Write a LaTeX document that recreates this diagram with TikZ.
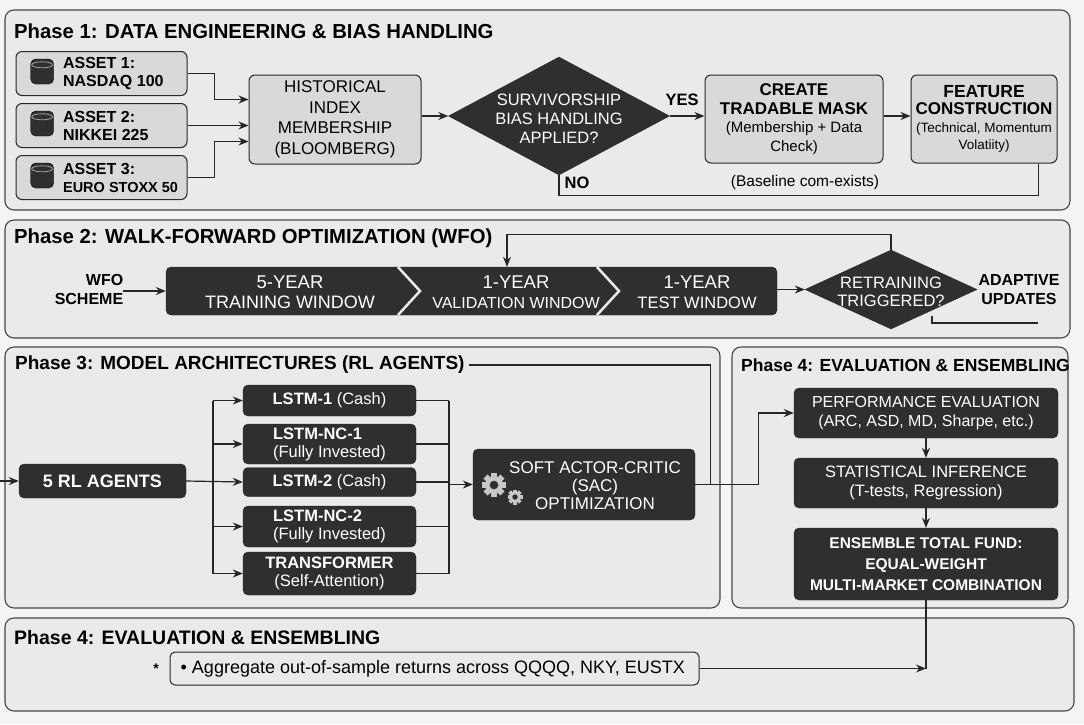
\documentclass[tikz,border=0pt]{standalone}
\usepackage{fontspec}
\setmainfont{Liberation Sans}
\usetikzlibrary{positioning,shapes.geometric,arrows.meta,calc}

\definecolor{pagebg}{HTML}{F4F4F3}
\definecolor{panelbg}{HTML}{EAEAEA}
\definecolor{boxlight}{HTML}{D9D9D9}
\definecolor{boxdark}{HTML}{2F2F2F}
\definecolor{ink}{HTML}{262626}
\definecolor{gearcol}{HTML}{C8C8C8}

\newcommand{\fsz}[2]{\fontsize{#1}{#2}\selectfont}
% gear glyph: x, y, radius
\newcommand{\gearicon}[3]{%
  \foreach \a in {0,45,90,135}
    \fill[gearcol,rotate around={\a:(#1,#2)}] (#1-0.24*#3,#2-#3) rectangle (#1+0.24*#3,#2+#3);
  \fill[gearcol] (#1,#2) circle (0.74*#3);
  \fill[boxdark] (#1,#2) circle (0.36*#3);}

\begin{document}
\begin{tikzpicture}[x=1pt,y=-1pt,
    panel/.style={draw=ink!85,fill=panelbg,line width=1.1pt,rounded corners=9pt},
    ttl/.style={anchor=west,inner sep=0pt,font=\bfseries\fsz{20.3}{22}},
    lightbox/.style={draw=ink,fill=boxlight,line width=1pt,rounded corners=6pt,align=center,inner sep=0pt},
    darkbox/.style={fill=boxdark,draw=ink,text=white,rounded corners=5pt,align=center,inner sep=0pt},
    decision/.style={diamond,fill=boxdark,draw=ink,inner sep=0pt},
    asset/.style={lightbox,minimum width=171pt,minimum height=44pt},
    assettxt/.style={align=left,inner sep=0pt,font=\bfseries\fsz{16}{18}},
    lstm/.style={darkbox,minimum width=173pt,font=\fsz{16.5}{18}},
    wtxt/.style={text=white,align=center,inner sep=0pt},
    lbl/.style={inner sep=0pt,align=center},
    line/.style={draw=ink,line width=1.2pt},
    arr/.style={line,-{Stealth[length=10pt,width=8pt]}},
    dbicon/.style={fill=boxdark,draw=black,rounded corners=5pt,minimum width=23pt,minimum height=25pt,inner sep=0pt}]

    \fill[pagebg] (0,0) rectangle (1084,724);
    \useasboundingbox (0,0) rectangle (1084,724);

    % panels
    \draw[panel] (5,10) rectangle (1070,210);
    \draw[panel] (5,220) rectangle (1070,338);
    \draw[panel] (5,347) rectangle (720,608);
    \draw[panel] (732,347) rectangle (1068,608);
    \draw[panel] (5,618) rectangle (1074,711);

    % Phase 1
    \node[ttl] (t1) at (14,31) {Phase 1: DATA ENGINEERING \& BIAS HANDLING};
    \node[asset] (a1) at (101.5,73.5) {};
    \node[asset] (a2) at (101.5,125.5) {};
    \node[asset] (a3) at (101.5,177.5) {};
    \foreach \n in {1,2,3}{
        \node[dbicon,right=15pt of a\n.west,yshift=2pt] (db\n) {};
        \draw[boxdark!45!white,line width=0.8pt] ([yshift=-6pt]db\n.north) ellipse (10.5 and 3);
    }
    \node[assettxt,right=9pt of a1.west -| db1.east] {ASSET 1:\\NASDAQ 100};
    \node[assettxt,right=9pt of a2.west -| db2.east] {ASSET 2:\\NIKKEI 225};
    \node[assettxt,right=9pt of a3.west -| db3.east] {ASSET 3:\\{\fsz{14.5}{18}EURO STOXX 50}};

    \node[lightbox,minimum width=172pt,minimum height=89pt,font=\fsz{17}{20.5}] (hist) at (335,119.5)
        {HISTORICAL\\INDEX\\MEMBERSHIP\\(BLOOMBERG)};
    \draw[arr] (a1.east) -- ++(27,0) |- ([yshift=20pt]hist.west);
    \draw[arr] (a2.east) -- (a2.east -| hist.west);
    \draw[arr] (a3.east) -- ++(27,0) |- ([yshift=-22pt]hist.west);

    \node[decision,minimum width=221pt,minimum height=118pt] (sv) at (559,116) {};
    \node[wtxt,font=\fsz{16.5}{19}] at ([yshift=-3pt]sv.center) {SURVIVORSHIP\\BIAS HANDLING\\APPLIED?};
    \draw[arr] (hist.east |- sv.west) -- (sv.west);

    \node[lightbox,minimum width=178pt,minimum height=88pt,font=\fsz{15}{18.5}] (mask) at (794,119)
        {{\bfseries\fsz{17}{18.5}CREATE}\\{\bfseries\fsz{17}{18.5}TRADABLE MASK}\\(Membership + Data\\Check)};
    \node[lightbox,minimum width=146pt,minimum height=88pt,font=\fsz{13.5}{17.5}] (feat) at (984,119)
        {{\bfseries\fsz{17.5}{20}FEATURE}\\{\bfseries\fsz{17}{20}CONSTRUCTION}\\(Technical, Momentum\\Volatiity)};
    \node[lbl,font=\bfseries\fsz{16.5}{19}] (yes) at (682,100) {YES};
    \draw[arr] (sv.east) -- (mask.west |- sv.east);
    \draw[arr] (mask.east |- sv.east) -- (feat.west |- sv.east);

    % bypass when no bias handling
    \draw[line] (sv.south) -- ++(0,20) -| ([xshift=-19pt]feat.south east);
    \node[lbl,font=\bfseries\fsz{16.5}{19}] (no) at (577,183) {NO};
    \node[lbl,font=\fsz{15.5}{18}] (base) at (805,182) {(Baseline com-exists)};

    % Phase 2
    \node[ttl] (t2) at (14,238) {Phase 2: WALK-FORWARD OPTIMIZATION (WFO)};
    \node[lbl,align=right,font=\bfseries\fsz{16}{19}] (wfo) at (89,289) {WFO\\SCHEME};
    \node[darkbox,minimum width=611pt,minimum height=48pt] (band) at (471.5,291) {};
    \draw[panelbg,line width=2.5pt] (398,267) -- (420,291) -- (398,315);
    \draw[panelbg,line width=2.5pt] (597,267) -- (619,291) -- (597,315);
    \node[wtxt,font=\fsz{18.5}{20}] (train) at (290,292) {5-YEAR\\{\fsz{18}{20}TRAINING WINDOW}};
    \node[wtxt,font=\fsz{16}{20}] (valid) at (516,292) {{\fsz{18.5}{20}1-YEAR}\\VALIDATION WINDOW};
    \node[wtxt,font=\fsz{16.5}{20}] (test) at (697,292) {{\fsz{18.5}{20}1-YEAR}\\TEST WINDOW};
    \draw[arr] (wfo.east |- band.west) -- (band.west);

    \node[decision,minimum width=172pt,minimum height=79pt] (rt) at (891,289.5) {};
    \node[wtxt,font=\fsz{16.5}{18}] at ([yshift=-2pt]rt.center) {RETRAINING\\TRIGGERED?};
    \draw[arr] (band.east |- rt.west) -- (rt.west);
    \draw[arr] (rt.north) -- ++(0,-15) -| ([xshift=-9pt]valid.center |- band.north);
    \node[lbl,font=\bfseries\fsz{16}{19}] (adapt) at (1019,289.5) {ADAPTIVE\\UPDATES};
    \draw[ink,line width=1.6pt] (932,316) |- (1038,323);

    % Phase 3
    \node[ttl,font=\bfseries\fsz{19}{22}] (t3) at (15,365) {Phase 3: MODEL ARCHITECTURES (RL AGENTS)};
    \coordinate (inflow) at (0,481);
    \node[darkbox,minimum width=167pt,minimum height=34pt,font=\bfseries\fsz{18}{20}] (rl) at (102.5,481) {5 RL AGENTS};
    \draw[arr] (inflow) -- (rl.west);

    \node[lstm,minimum height=31pt] (l1) at (329.5,400.5) {\textbf{LSTM-1} (Cash)};
    \node[lstm,minimum height=40pt,align=left] (l2) at (329.5,444) {\textbf{LSTM-NC-1}\\(Fully Invested)};
    \node[lstm,minimum height=29pt] (l3) at (329.5,482) {\textbf{LSTM-2} (Cash)};
    \node[lstm,minimum height=41pt,align=left] (l4) at (329.5,526.5) {\textbf{LSTM-NC-2}\\(Fully Invested)};
    \node[lstm,minimum height=43pt] (l5) at (329.5,573.5) {\textbf{TRANSFORMER}\\(Self-Attention)};

    \coordinate (busl) at (213,0);
    \coordinate (busr) at (449,0);
    \draw[line] (busl |- l1.west) -- (busl |- l5.west);
    \draw[arr] (rl.east) -- (l3.west);
    \foreach \n in {l1,l2,l4,l5}
        \draw[arr] (busl |- \n.west) -- (\n.west);
    \foreach \n in {l1,l2,l3,l4,l5}
        \draw[line] (\n.east) -- (busr |- \n.east);
    \draw[line] (busr |- l1.east) -- (busr |- l5.east);

    \node[darkbox,minimum width=222pt,minimum height=71pt] (sac) at (584,484.5) {};
    \node[wtxt,font=\fsz{17}{18}] at (595,486) {SOFT ACTOR-CRITIC\\(SAC)\\OPTIMIZATION};
    \gearicon{494}{485}{12}
    \gearicon{515}{497}{7.5}
    \draw[arr] (busr |- sac.west) -- (sac.west);
    \draw[line] ([xshift=4pt]t3.east) -| ([xshift=15pt]sac.east);

    % Phase 4
    \node[ttl,font=\bfseries\fsz{17.5}{20}] (t4) at (741,365) {Phase 4: EVALUATION \& ENSEMBLING};
    \node[darkbox,minimum width=264pt,minimum height=50pt,font=\fsz{16}{19}] (perf) at (926,413)
        {PERFORMANCE EVALUATION\\(ARC, ASD, MD, Sharpe, etc.)};
    \node[darkbox,minimum width=264pt,minimum height=50pt,font=\fsz{16.5}{19}] (stat) at (926,483)
        {STATISTICAL INFERENCE\\(T-tests, Regression)};
    \node[darkbox,minimum width=264pt,minimum height=72pt,font=\bfseries\fsz{15.5}{21}] (ens) at (926,564)
        {ENSEMBLE TOTAL FUND:\\EQUAL-WEIGHT\\MULTI-MARKET COMBINATION};
    \draw[arr] (sac.east) -- ++(63,0) |- (perf.west);
    \draw[arr] (perf) -- (stat);
    \draw[arr] (stat) -- (ens);

    % bottom panel
    \node[ttl,font=\bfseries\fsz{19.5}{22}] (t5) at (14,638) {Phase 4: EVALUATION \& ENSEMBLING};
    \node[lightbox,fill=panelbg,rounded corners=5pt,minimum width=529pt,minimum height=33pt] (agg) at (434.5,668.5) {};
    \node[lbl,anchor=west,font=\fsz{18}{20}] at ([xshift=11pt]agg.west)
        {\textbullet\ Aggregate out-of-sample returns across QQQQ, NKY, EUSTX};
    \node[lbl,font=\bfseries\fsz{14}{16}] (star) at (156,669) {*};
    \draw[line] (ens.south) -- (ens.south |- agg.east);
    \draw[arr] (agg.east) -- (ens.south |- agg.east);
\end{tikzpicture}
\end{document}
